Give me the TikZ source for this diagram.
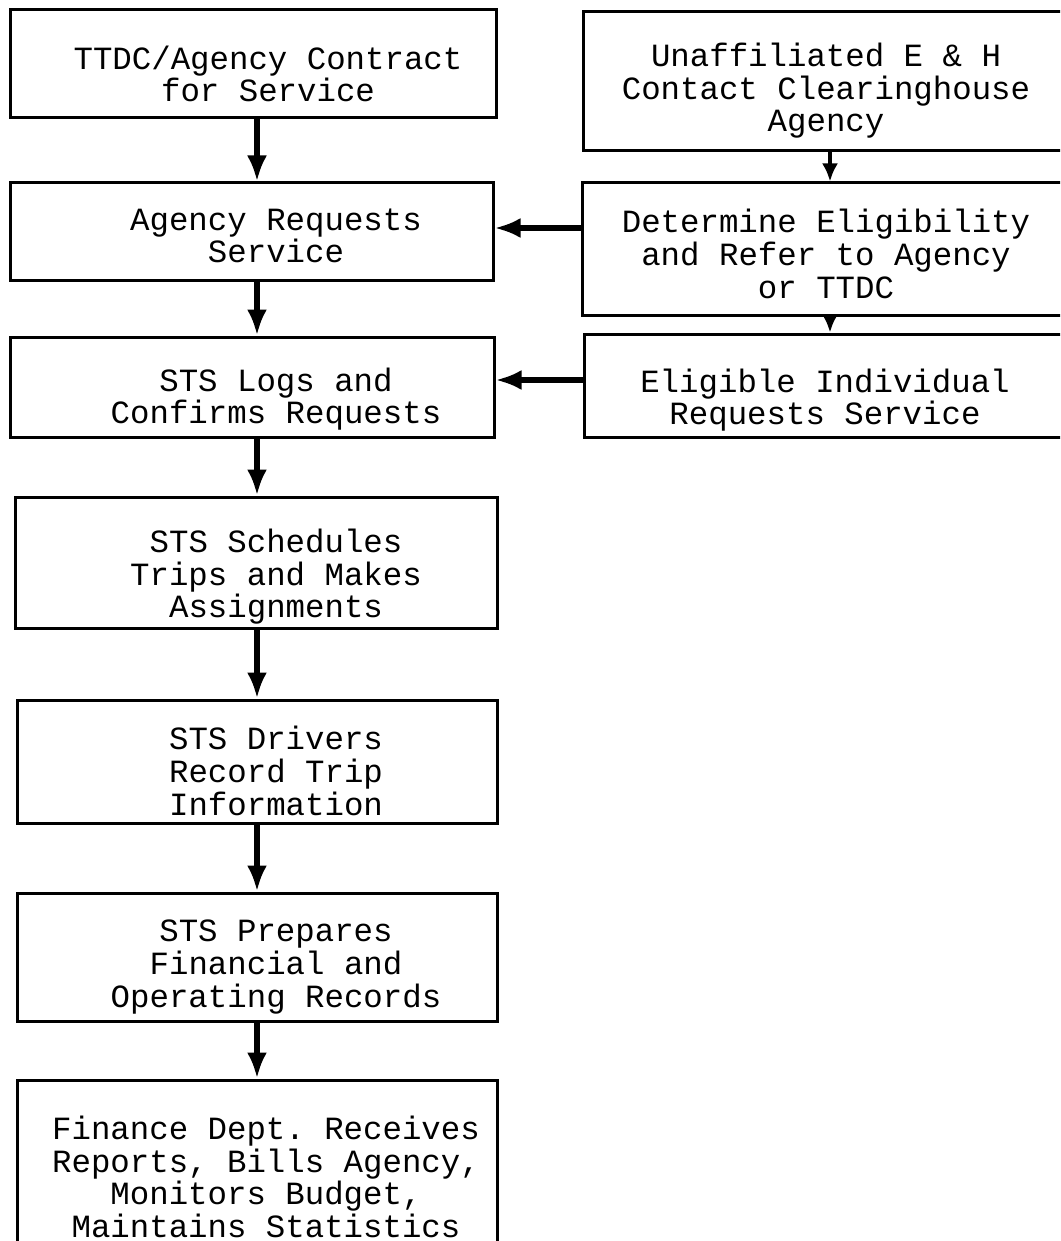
\documentclass[tikz,border=0pt]{standalone}
\usepackage{fontspec}
\setmonofont{Liberation Mono}
\usetikzlibrary{arrows.meta}
\begin{document}
\begin{tikzpicture}[x=0.5pt,y=-0.5pt,
  box/.style={draw=black,line width=1.5pt,rectangle,inner sep=0pt},
  txt/.style={font=\ttfamily\fontsize{16.2pt}{16.3pt}\selectfont,align=center,inner sep=0pt},
  arr/.style={line width=2.6pt,-{Latex[length=13pt,width=10pt]}},
  sarr/.style={line width=2pt,-{Latex[length=9pt,width=8pt]}}]
\useasboundingbox (0,0) rectangle (1060,1241);
\clip (0,0) rectangle (1060,1241);
% left column boxes
\node[box,minimum width=243pt,minimum height=54pt] (b1) at (253,64) {};
\node[box,minimum width=241.5pt,minimum height=48.5pt] (b2) at (251.5,231.5) {};
\node[box,minimum width=242pt,minimum height=50pt] (b3) at (252,387) {};
\node[box,minimum width=241pt,minimum height=65.5pt] (b4) at (256,562.5) {};
\node[box,minimum width=240pt,minimum height=61.5pt] (b5) at (257,761.5) {};
\node[box,minimum width=240pt,minimum height=64pt] (b6) at (257,957) {};
\node[box,minimum width=240pt,minimum height=95pt] (b7) at (257,1175) {};
% right column boxes
\node[box,minimum width=250pt,minimum height=69.5pt] (ra) at (833,81.5) {};
\node[box,minimum width=250pt,minimum height=66pt] (rb) at (832,249) {};
\node[box,minimum width=250pt,minimum height=51.5pt] (rc) at (834,385.5) {};
% texts
\node[txt] (t1) at (268,74) {TTDC/Agency Contract\\for Service};
\node[txt] (t2) at (276,236) {Agency Requests\\Service};
\node[txt] (t3) at (276,399) {STS Logs and\\Confirms Requests};
\node[txt] (t4) at (276,577) {STS Schedules\\Trips and Makes\\Assignments};
\node[txt] (t5) at (276,771) {STS Drivers\\Record Trip\\Information};
\node[txt] (t6) at (276,967) {STS Prepares\\Financial and\\Operating Records};
\node[txt] (t7) at (266,1177) {Finance Dept. Receives\\Reports, Bills Agency,\\Monitors Budget,\\Maintains Statistics};
\node[txt] (ta) at (826,91) {Unaffiliated E \& H\\Contact Clearinghouse\\Agency};
\node[txt] (tb) at (826,254) {Determine Eligibility\\and Refer to Agency\\or TTDC};
\node[txt] (tc) at (825,400) {Eligible Individual\\Requests Service};
% connectors
\coordinate (spine) at (257,0);
\coordinate (rspine) at (830,0);
\draw[arr] (b1.south -| spine) -- (b2.north -| spine);
\draw[arr] (b2.south -| spine) -- (b3.north -| spine);
\draw[arr] (b3.south -| spine) -- (b4.north -| spine);
\draw[arr] (b4.south -| spine) -- (b5.north -| spine);
\draw[arr] (b5.south -| spine) -- (b6.north -| spine);
\draw[arr] (b6.south -| spine) -- (b7.north -| spine);
\draw[sarr] (ra.south -| rspine) -- (rb.north -| rspine);
\draw[sarr] (rb.south -| rspine) -- (rc.north -| rspine);
\coordinate (h1) at (0,228);
\coordinate (h2) at (0,380);
\draw[arr] (rb.west |- h1) -- (b2.east |- h1);
\draw[arr] (rc.west |- h2) -- (b3.east |- h2);
\end{tikzpicture}
\end{document}
